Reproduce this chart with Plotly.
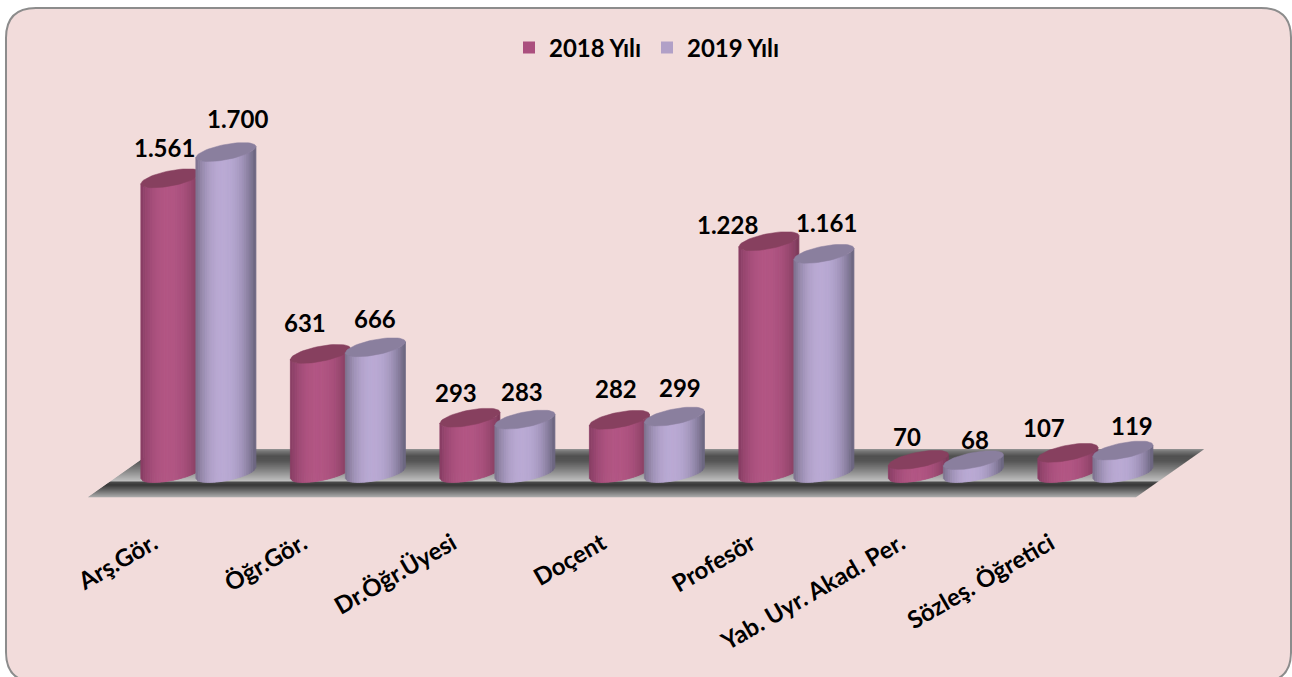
import math
import plotly.graph_objects as go

categories = ["Arş.Gör.", "Öğr.Gör.", "Dr.Öğr.Üyesi", "Doçent", "Profesör", "Yab. Uyr. Akad. Per.", "Sözleş. Öğretici"]
values_2018 = [1561, 631, 293, 282, 1228, 70, 107]
values_2019 = [1700, 666, 283, 299, 1161, 68, 119]
series_names = ["2018 Yılı", "2019 Yılı"]

W, H = 1292, 677
FONT = "Lato"
PX_PER_UNIT = 0.1888
BASE_PY = 473
GROUP0_PX, GROUP_STEP = 198.4, 149.5
PLOT_BOTTOM = 510
R, TILT, FLAT = 30, 5.5, 7.7
STRIPS = 26

ux = lambda px: px / GROUP_STEP          # pixels to x units
uy = lambda px: px / PX_PER_UNIT         # pixels to y units

# hand-placed label offsets of the original chart (pixels)
label_dx = [[-6, -15, -14, -3, -41, -11, -24], [12, 0, -3, 6, 3, 2, 9]]
label_dy = [[31, 31, 25, 31, 17, 23, 25], [34, 29, 28, 29, 31, 21, 25]]
tick_dx = [-45, -45, -45, -45, -45, -45, -45]

series = [
    dict(name=series_names[0], vals=values_2018, off=-27.5, flat="#ab4f7e", cap="#87405f",
         left=(134, 60, 98), mid=(178, 86, 132), right=(122, 56, 88)),
    dict(name=series_names[1], vals=values_2019, off=27.5, flat="#b1a0c7", cap="#8a7f9e",
         left=(122, 112, 140), mid=(186, 170, 212), right=(104, 98, 124)),
]

def shade(s, u):
    a, b = (s["left"], abs(u + 0.08) / 0.92) if u < -0.08 else (s["right"], (u + 0.08) / 1.08)
    k = min(1, b) ** 2.2
    return "rgb(%d,%d,%d)" % tuple(round(s["mid"][j] + (a[j] - s["mid"][j]) * k) for j in range(3))

def edge_y(u, front=True):
    """Vertical offset (y units) of the ellipse rim at u in [-1, 1]."""
    h = FLAT * math.sqrt(max(0, 1 - u * u))
    return uy(TILT * u + (h if not front else -h))

fig = go.Figure()

# real bars (under the shaded cylinders), also carry the legend
for s in series:
    fig.add_trace(go.Bar(
        x=[i + ux(s["off"]) for i in range(len(categories))], y=s["vals"], width=ux(48),
        name=s["name"], marker=dict(color=s["flat"], line=dict(width=0)), hoverinfo="x+y",
    ))

# shaded cylinders derived from the same values
for s in series:
    for k in range(STRIPS):
        u1, u2 = -1 + 2 * k / STRIPS, -1 + 2 * (k + 1) / STRIPS
        xs, ys = [], []
        for i, v in enumerate(s["vals"]):
            c = i + ux(s["off"])
            xs += [c + ux(R * u1), c + ux(R * u2), c + ux(R * u2), c + ux(R * u1), c + ux(R * u1), None]
            ys += [v + edge_y(u1), v + edge_y(u2), edge_y(u2), edge_y(u1), v + edge_y(u1), None]
        col = shade(s, (u1 + u2) / 2)
        fig.add_trace(go.Scatter(x=xs, y=ys, mode="lines", fill="toself", fillcolor=col,
                                 line=dict(color=col, width=0.8), showlegend=False, hoverinfo="skip"))
    xs, ys = [], []
    for i, v in enumerate(s["vals"]):
        c = i + ux(s["off"])
        for n in range(61):
            t = 2 * math.pi * n / 60
            xs.append(c + ux(R * math.cos(t)))
            ys.append(v + uy(TILT * math.cos(t) + FLAT * math.sin(t)))
        xs.append(None); ys.append(None)
    fig.add_trace(go.Scatter(x=xs, y=ys, mode="lines", fill="toself", fillcolor=s["cap"],
                             line=dict(color=s["cap"], width=0.5), showlegend=False, hoverinfo="skip"))

# data labels
annotations = []
for n, s in enumerate(series):
    for i, v in enumerate(s["vals"]):
        annotations.append(dict(
            x=i + ux(s["off"]), y=v, text=f"{v:,}".replace(",", "."), showarrow=False,
            xanchor="center", yanchor="middle", xshift=label_dx[n][i], yshift=label_dy[n][i],
            font=dict(family=FONT, size=24, color="#000000", weight="bold"),
        ))

# panel and floor, in page pixels
px_x = lambda p: p / W
px_y = lambda p: 1 - p / H
def P(x, y):
    return f"{px_x(x):.5f},{px_y(y):.5f}"

L, Rt, T, B, C = 6, 1291, 8, 682, 30
panel = (f"M{P(L + C, T)} L{P(Rt - C, T)} Q{P(Rt, T)} {P(Rt, T + C)} L{P(Rt, B - C)} Q{P(Rt, B)} {P(Rt - C, B)} "
         f"L{P(L + C, B)} Q{P(L, B)} {P(L, B - C)} L{P(L, T + C)} Q{P(L, T)} {P(L + C, T)} Z")
shapes = [dict(type="path", path=panel, xref="paper", yref="paper", layer="below",
               fillcolor="#f2dcdb", line=dict(color="#8c8c8c", width=2))]

floor_stops = [(448, 165), (451, 120), (456, 80), (461, 85), (470, 130), (478, 175), (481, 190),
               (482, 75), (485, 55), (490, 100), (497, 170)]
def grey(py):
    for (a, ga), (b, gb) in zip(floor_stops, floor_stops[1:]):
        if a <= py <= b:
            return round(ga + (gb - ga) * (py - a) / (b - a))
    return floor_stops[-1][1]
for py in range(449, 497):
    lx0, lx1 = 88 + (497 - py) * 1.42, 88 + (497 - py - 1) * 1.42
    rx0, rx1 = 1136 + (497 - py) * 1.42, 1136 + (497 - py - 1) * 1.42
    g = grey(py + 0.5)
    shapes.append(dict(type="path", xref="paper", yref="paper", layer="below",
                       path=f"M{P(lx0, py)} L{P(rx0, py)} L{P(rx1, py + 1.2)} L{P(lx1, py + 1.2)} Z",
                       fillcolor=f"rgb({g},{g},{g})", line=dict(width=0)))

fig.update_layout(
    width=W, height=H, margin=dict(l=0, r=0, t=0, b=0, pad=0),
    paper_bgcolor="#ffffff", plot_bgcolor="rgba(0,0,0,0)", barmode="overlay",
    font=dict(family=FONT, color="#000000"), shapes=shapes, annotations=annotations,
    legend=dict(orientation="h", x=647 / W, xanchor="center", y=px_y(48), yanchor="middle",
                font=dict(family=FONT, size=24, color="#000000", weight="bold"),
                bgcolor="rgba(0,0,0,0)", traceorder="normal",
                entrywidth=93, entrywidthmode="pixels"),
    xaxis=dict(range=[-GROUP0_PX / GROUP_STEP, (W - GROUP0_PX) / GROUP_STEP],
               tickmode="array", tickvals=[i + ux(d) for i, d in enumerate(tick_dx)], ticktext=categories,
               tickangle=-30, ticks="", showgrid=False, zeroline=False, showline=False,
               ticklabelstandoff=14,
               tickfont=dict(family=FONT, size=24, color="#000000", weight="bold")),
    yaxis=dict(domain=[1 - PLOT_BOTTOM / H, 1],
               range=[(BASE_PY - PLOT_BOTTOM) / PX_PER_UNIT, BASE_PY / PX_PER_UNIT],
               visible=False),
)
fig.write_html("out.html", config={"displayModeBar": False},
               post_script="document.body.style.margin='0';document.body.style.overflow='hidden';")
